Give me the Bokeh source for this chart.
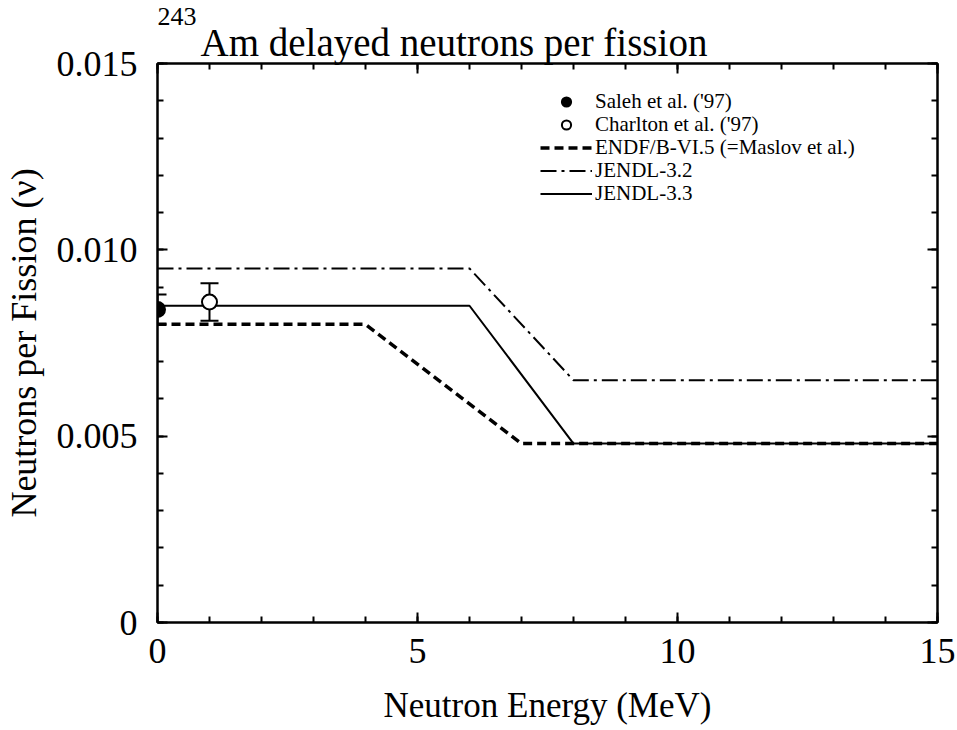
from bokeh.plotting import figure
from bokeh.models import (LinearAxis, SingleIntervalTicker, Whisker, ColumnDataSource,
                          Title, Legend, LegendItem, Range1d, CustomJSTickFormatter,
                          CustomLabelingPolicy)
from bokeh.embed import file_html
from bokeh.resources import INLINE

# ---- data ----
endf_x = [0, 4, 7, 15]
endf_y = [0.0080, 0.0080, 0.0048, 0.0048]
j32_x = [0, 6, 8, 15]
j32_y = [0.0095, 0.0095, 0.0065, 0.0065]
j33_x = [0, 6, 8, 15]
j33_y = [0.0085, 0.0085, 0.0048, 0.0048]
saleh_x = [0.0]
saleh_y = [0.0084]
saleh_err = [0.0004]
charlton_x = [1.0]
charlton_y = [0.0086]
charlton_err = [0.0005]
legend_labels = ["Saleh et al. ('97)", "Charlton et al. ('97)",
                 "ENDF/B-VI.5 (=Maslov et al.)", "JENDL-3.2", "JENDL-3.3"]

FONT = "Liberation Serif"

p = figure(width=957, height=730, x_range=Range1d(0, 15), y_range=Range1d(0, 0.015),
           output_backend="svg", toolbar_location=None,
           min_border_left=157, min_border_right=20, min_border_top=63, min_border_bottom=108)
p.xgrid.visible = False
p.ygrid.visible = False
p.outline_line_color = "black"
p.outline_line_width = 2
p.background_fill_color = "white"
p.border_fill_color = "white"

xt = SingleIntervalTicker(interval=5, num_minor_ticks=5)
yt = SingleIntervalTicker(interval=0.005, num_minor_ticks=5)
yfmt = CustomJSTickFormatter(code="return tick == 0 ? '0' : tick.toFixed(3);")

def style_axis(ax, show_labels):
    ax.axis_line_width = 2
    ax.axis_line_color = "black"
    ax.major_tick_in = 10
    ax.major_tick_out = 0
    ax.minor_tick_in = 6
    ax.minor_tick_out = 0
    ax.major_tick_line_width = 2
    ax.minor_tick_line_width = 2
    ax.major_tick_line_color = "black"
    ax.minor_tick_line_color = "black"
    if show_labels:
        ax.major_label_text_font = FONT
        ax.major_label_text_font_size = "36px"
        ax.major_label_text_color = "black"
        ax.axis_label_text_font = FONT
        ax.axis_label_text_font_style = "normal"
        ax.axis_label_text_font_size = "36px"
        ax.axis_label_text_color = "black"
    else:
        # mirror axes: ticks only, no tick labels drawn
        ax.major_label_text_font_size = "0px"
        ax.major_label_standoff = 0
        ax.major_label_policy = CustomLabelingPolicy(
            code="for (const i of Array.from(indices)) { indices.unset(i) } return indices")

xa = p.xaxis[0]
xa.ticker = xt
xa.axis_label = "Neutron Energy (MeV)"
style_axis(xa, True)
xa.axis_label_text_font_size = "35px"
xa.major_label_standoff = 16
xa.axis_label_standoff = 20

ya = p.yaxis[0]
ya.ticker = yt
ya.formatter = yfmt
ya.axis_label = "Neutrons per Fission (ν)"
style_axis(ya, True)
ya.major_label_standoff = 20
ya.axis_label_standoff = 10

top = LinearAxis(ticker=SingleIntervalTicker(interval=5, num_minor_ticks=5))
style_axis(top, False)
p.add_layout(top, "above")
right = LinearAxis(ticker=SingleIntervalTicker(interval=0.005, num_minor_ticks=5))
style_axis(right, False)
p.add_layout(right, "right")

# ---- lines ----
r_endf = p.line(endf_x, endf_y, line_color="black", line_width=3.5, line_dash="9 5")
r_j32 = p.line(j32_x, j32_y, line_color="black", line_width=2, line_dash="16 5 3 5")
r_j33 = p.line(j33_x, j33_y, line_color="black", line_width=2)

# ---- data points ----
s_saleh = ColumnDataSource(dict(x=saleh_x, y=saleh_y,
                                lo=[a - b for a, b in zip(saleh_y, saleh_err)],
                                hi=[a + b for a, b in zip(saleh_y, saleh_err)]))
s_charl = ColumnDataSource(dict(x=charlton_x, y=charlton_y,
                                lo=[a - b for a, b in zip(charlton_y, charlton_err)],
                                hi=[a + b for a, b in zip(charlton_y, charlton_err)]))
for src in (s_saleh, s_charl):
    w = Whisker(source=src, base="x", lower="lo", upper="hi", dimension="height",
                line_color="black", line_width=2)
    w.upper_head.size = 18
    w.lower_head.size = 18
    w.upper_head.line_width = 2
    w.lower_head.line_width = 2
    p.add_layout(w)

r_saleh = p.scatter("x", "y", source=s_saleh, size=15, marker="circle",
                    fill_color="black", line_color="black", line_width=2)
r_charl = p.scatter("x", "y", source=s_charl, size=15, marker="circle",
                    fill_color="white", line_color="black", line_width=2)

# ---- legend: one compact row per entry ----
renderers = [r_saleh, r_charl, r_endf, r_j32, r_j33]
row_bottoms = [508, 485, 462, 439, 416]   # screen px from the frame bottom
for lab, rend, yb in zip(legend_labels, renderers, row_bottoms):
    lg = Legend(items=[LegendItem(label=lab, renderers=[rend])], location=(383, yb))
    lg.border_line_color = None
    lg.background_fill_alpha = 0
    lg.padding = 0
    lg.margin = 0
    lg.glyph_width = 52
    lg.glyph_height = 23
    lg.label_height = 23
    lg.label_standoff = 3
    lg.label_text_font = FONT
    lg.label_text_font_size = "21px"
    lg.label_text_color = "black"
    p.add_layout(lg, "center")

# ---- title (superscript mass number + main text) ----
main_title = Title(text="Am delayed neutrons per fission", align="left", offset=43,
                   text_font=FONT, text_font_size="39px", text_font_style="normal",
                   text_color="black", standoff=0)
sup_title = Title(text="243", align="left", offset=0,
                  text_font=FONT, text_font_size="26px", text_font_style="normal",
                  text_color="black", standoff=-12)
p.add_layout(main_title, "above")
p.add_layout(sup_title, "above")

open("out.html", "w").write(file_html(p, INLINE))
